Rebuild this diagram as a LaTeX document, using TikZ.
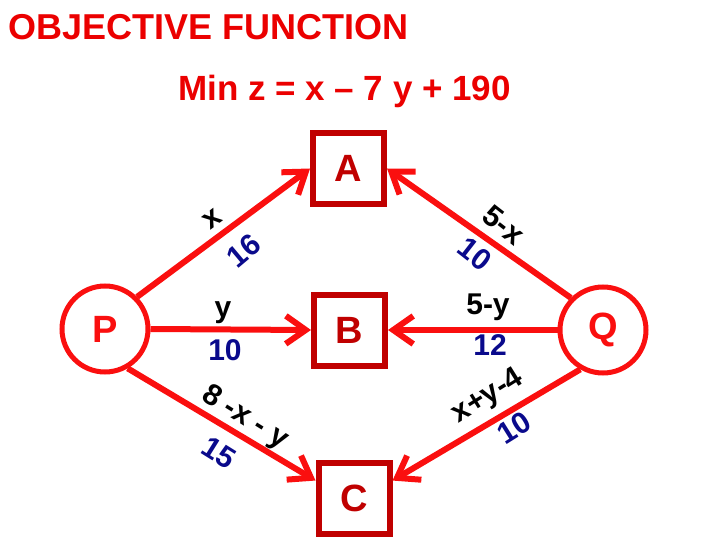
\documentclass[tikz,border=0pt]{standalone}
\usepackage{fontspec}
\setmainfont{Liberation Sans}
\usetikzlibrary{arrows.meta}
\definecolor{edgered}{RGB}{250,15,15}
\definecolor{boxred}{RGB}{192,0,0}
\definecolor{titlered}{RGB}{235,0,0}
\definecolor{lblnavy}{RGB}{10,10,140}
\begin{document}
\begin{tikzpicture}[x=1pt,y=-1pt,
 boxnode/.style={draw=boxred, line width=6pt, minimum size=71pt, inner sep=0pt, text=boxred, font=\bfseries\fontsize{38}{40}\selectfont},
 circnode/.style={circle, draw=edgered, line width=5pt, minimum size=86pt, inner sep=0pt, text=edgered, font=\bfseries\fontsize{38}{40}\selectfont},
 edge/.style={draw=edgered, line width=6pt, -{Straight Barb[length=20pt,width=28pt]}},
 lblk/.style={font=\bfseries\fontsize{30}{32}\selectfont, text=black, inner sep=0pt},
 lbln/.style={lblk, text=lblnavy},
 ttl/.style={anchor=base west, text=titlered, inner sep=0pt},
]
\useasboundingbox (0,0) rectangle (720,540);
\node[ttl, font=\bfseries\fontsize{36}{40}\selectfont] (title) at (8,40) {OBJECTIVE FUNCTION};
\node[ttl, font=\bfseries\fontsize{35}{40}\selectfont] (obj) at (178,101) {Min z = x – 7 y + 190};

\node[boxnode] (A) at (348.5,168.5) {A};
\node[boxnode] (B) at (349.5,330) {B};
\node[boxnode] (C) at (354,498.5) {C};
\node[circnode] (P) at (105,329) {P};
\node[circnode] (Q) at (603,330) {Q};

\draw[edge] (P.45) -- (A.west);
\draw[edge] (Q.135) -- (A.east);
\draw[edge] (P.east) -- (B.west);
\draw[edge] (Q.west) -- (B.east);
\draw[edge] (P.-60) -- (C.155);
\draw[edge] (Q.-120) -- (C.25);

\node[lblk, rotate=37] (lx) at (212,219) {x};
\node[lbln, rotate=40] (l16) at (244,251) {16};
\node[lblk, rotate=-38] (l5x) at (504,225) {5-x};
\node[lbln, rotate=-38] (l10a) at (475,254) {10};
\node[lblk] (ly) at (223,313) {y};
\node[lbln] (l10b) at (225,350) {10};
\node[lblk] (l5y) at (488,307) {5-y};
\node[lbln] (l12) at (490,345) {12};
\node[lblk, rotate=-32] (l8xy) at (245,418) {8 -x - y};
\node[lbln, rotate=-32] (l15) at (219,453) {15};
\node[lblk, rotate=32] (lxy4) at (488,397) {x+y-4};
\node[lbln, rotate=32] (l10c) at (514,428) {10};
\end{tikzpicture}
\end{document}
